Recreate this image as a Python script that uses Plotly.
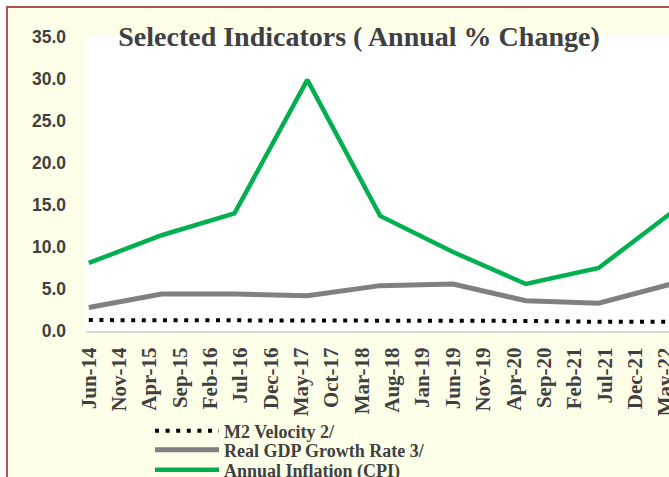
import plotly.graph_objects as go

# ---- data ----
point_months = ["Jun-14", "Jun-15", "Jun-16", "Jun-17", "Jun-18", "Jun-19", "Jun-20", "Jun-21", "Jun-22"]
m2_velocity = [1.3, 1.3, 1.2, 1.2, 1.2, 1.2, 1.2, 1.1, 1.1]
real_gdp = [2.8, 4.4, 4.4, 4.2, 5.4, 5.6, 3.6, 3.3, 5.6]
inflation = [8.1, 11.4, 14.0, 29.9, 13.7, 9.4, 5.6, 7.5, 14.1]
tick_labels = ["Jun-14", "Nov-14", "Apr-15", "Sep-15", "Feb-16", "Jul-16", "Dec-16", "May-17",
               "Oct-17", "Mar-18", "Aug-18", "Jan-19", "Jun-19", "Nov-19", "Apr-20", "Sep-20",
               "Feb-21", "Jul-21", "Dec-21", "May-22"]
y_ticks = [0, 5, 10, 15, 20, 25, 30, 35]

MONTHS = {"Jan": 1, "Feb": 2, "Mar": 3, "Apr": 4, "May": 5, "Jun": 6,
          "Jul": 7, "Aug": 8, "Sep": 9, "Oct": 10, "Nov": 11, "Dec": 12}


def month_index(label):
    m, y = label.split("-")
    return (2000 + int(y) - 2014) * 12 + MONTHS[m] - 6


x_pts = [month_index(s) for s in point_months]
x_ticks = [month_index(s) for s in tick_labels]

W, H = 669, 477
L, R, T, B = 86, 0, 36, H - 331
plot_w = W - L - R
plot_h = H - T - B


def px_x(p):  # screen px -> paper x
    return (p - L) / plot_w


def px_y(p):  # screen px -> paper y
    return (H - B - p) / plot_h


def cont_x(p):
    return p / W


def cont_y(p):
    return 1 - p / H


# x range: month index 0 sits at x 88.8, 6.07 px per month
x0 = (L - 88.8) / 6.07
x1 = (W - 88.8) / 6.07

fig = go.Figure()
fig.add_trace(go.Scatter(x=x_pts, y=m2_velocity, mode="lines", name="M2 Velocity 2/",
                         line=dict(color="black", width=4, dash="4px,6.6px"), legend="legend"))
fig.add_trace(go.Scatter(x=x_pts, y=real_gdp, mode="lines", name="Real GDP Growth Rate 3/",
                         line=dict(color="#808080", width=5), legend="legend2"))
fig.add_trace(go.Scatter(x=x_pts, y=inflation, mode="lines", name="Annual Inflation (CPI)",
                         line=dict(color="#00B050", width=4.5), legend="legend3"))

legend_common = dict(xref="container", yref="container", x=cont_x(150), xanchor="left",
                     yanchor="middle", bgcolor="rgba(0,0,0,0)", borderwidth=0,
                     itemwidth=64,
                     font=dict(family="Liberation Serif", size=18, color="#404040", weight="bold"))

fig.update_layout(
    width=W, height=H,
    margin=dict(l=L, r=R, t=T, b=B, autoexpand=False),
    paper_bgcolor="white",
    plot_bgcolor="white",
    title=dict(text="<b>Selected Indicators ( Annual % Change)</b>",
               xref="container", yref="container",
               x=cont_x(359), xanchor="center", y=cont_y(26), yanchor="top",
               font=dict(family="Liberation Serif", size=28, color="#404040")),
    showlegend=True,
    legend=dict(**legend_common, y=cont_y(431)),
    legend2=dict(**legend_common, y=cont_y(450)),
    legend3=dict(**legend_common, y=cont_y(470)),
    xaxis=dict(range=[x0, x1], tickmode="array", tickvals=x_ticks, ticktext=tick_labels,
               tickangle=-90, showgrid=False, zeroline=False, showline=True,
               linecolor="#D9D9D9", linewidth=2, ticks="", ticklabelstandoff=6,
               ticklabeloverflow="allow",
               tickfont=dict(family="Liberation Serif", size=21, color="#404040", weight="bold")),
    yaxis=dict(range=[0, 35.12], tickmode="array", tickvals=y_ticks, tickformat=".1f",
               showgrid=False, zeroline=False, showline=False, ticks="", ticklabelstandoff=19,
               tickfont=dict(family="Liberation Sans", size=17.5, color="#404040", weight="bold")),
    shapes=[
        dict(type="rect", xref="paper", yref="paper", layer="below",
             x0=px_x(7), x1=px_x(760), y0=px_y(7), y1=px_y(560),
             fillcolor="#FFFFE9", line=dict(color="#AE5552", width=2)),
        dict(type="rect", xref="paper", yref="paper", layer="below",
             x0=0, x1=1, y0=0, y1=1, fillcolor="white", line=dict(width=0)),
    ],
)

fig.write_html(
    "out.html",
    config={"displayModeBar": False},
    post_script="document.body.style.margin='0px';document.body.style.overflow='hidden';",
)
